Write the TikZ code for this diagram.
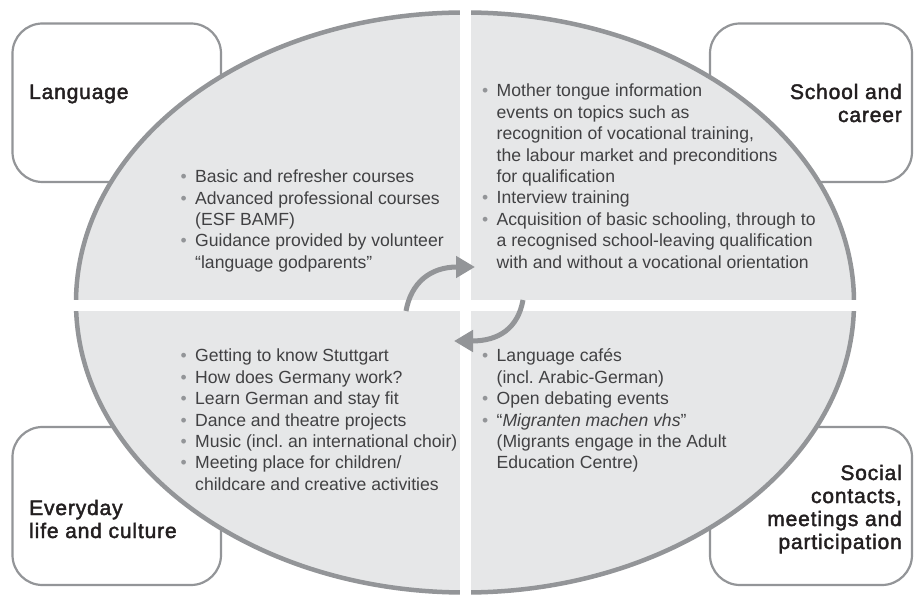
\documentclass[tikz,border=0pt]{standalone}
\usepackage{fontspec}
\setmainfont{Liberation Sans}
\newfontfamily\labelfont{Liberation Sans}[FakeBold=2,LetterSpace=4]
\usetikzlibrary{arrows.meta,shapes.geometric}

\definecolor{ringgrey}{HTML}{939598}
\definecolor{fillgrey}{HTML}{E6E7E8}
\definecolor{bodytext}{HTML}{414143}
\definecolor{labeltext}{HTML}{231F20}

\frenchspacing

% bullet and hanging indent for the lists
\newcommand\bul{\makebox[14.5pt][l]{\textcolor{ringgrey}{•}}}
\newcommand\cont{\hspace*{14.5pt}}
% a block of lines whose baseline is that of its first line
\newcommand\lineblock[2]{\begin{tabular}[t]{@{}#1@{}}#2\end{tabular}}

\tikzset{
  areabox/.style={draw=ringgrey, line width=2.2pt, fill=white, rounded corners=30pt},
  listtext/.style={inner sep=0pt, text=bodytext, font=\fontsize{17.6pt}{21.4pt}\selectfont},
  labeltxt/.style={inner sep=0pt, text=labeltext, font=\labelfont\fontsize{21pt}{23pt}\selectfont},
  cycle arrow/.style={draw=ringgrey, line width=5pt,
    -{Triangle[length=19pt,width=21pt]}},
}

\begin{document}
\begin{tikzpicture}[x=1pt,y=-1pt]
\useasboundingbox (0,0) rectangle (914,596);
\fill[white] (0,0) rectangle (914,596);

% four corner boxes
\draw[areabox] (12.5,23.5) rectangle (221,182);
\draw[areabox] (710,23.5) rectangle (912,182);
\draw[areabox] (12.5,427) rectangle (221,585);
\draw[areabox] (710,427) rectangle (912,585);

% central ellipse split into quadrants
\node[draw=ringgrey, fill=fillgrey, line width=4.5pt, ellipse, inner sep=0pt,
      minimum width=778pt, minimum height=580pt] (hub) at (465,302.5) {};
\fill[white] (460,0) rectangle (471,596);
\fill[white] (60,300) rectangle (870,311);

% labels in the corner boxes
\node[labeltxt, anchor=base west] (lang) at (29,99) {Language};
\node[labeltxt, anchor=base east] (school) at (902,99)
  {\lineblock{r}{School and\\ career}};
\node[labeltxt, anchor=base west] (everyday) at (29,515)
  {\lineblock{l}{Everyday\\ life and culture}};
\node[labeltxt, anchor=base east] (social) at (902,480)
  {\lineblock{r}{Social\\ contacts,\\ meetings and\\ participation}};

% lists in the quadrants
\node[listtext, anchor=base west] (langlist) at (180.5,182.7)
  {\lineblock{l}{\bul Basic and refresher courses\\
   \bul Advanced professional courses\\
   \cont(ESF BAMF)\\
   \bul Guidance provided by volunteer\\
   \cont“language godparents”}};

\node[listtext, anchor=base west] (schoollist) at (482,97)
  {\lineblock{l}{\bul Mother tongue information\\
   \cont events on topics such as\\
   \cont recognition of vocational training,\\
   \cont the labour market and preconditions\\
   \cont for qualification\\
   \bul Interview training\\
   \bul Acquisition of basic schooling, through to\\
   \cont a recognised school-leaving qualification\\
   \cont with and without a vocational orientation}};

\node[listtext, anchor=base west] (everydaylist) at (180.5,362)
  {\lineblock{l}{\bul Getting to know Stuttgart\\
   \bul How does Germany work?\\
   \bul Learn German and stay fit\\
   \bul Dance and theatre projects\\
   \bul Music (incl. an international choir)\\
   \bul Meeting place for children/\\
   \cont childcare and creative activities}};

\node[listtext, anchor=base west] (sociallist) at (482,362)
  {\lineblock{l}{\bul Language cafés\\
   \cont(incl. Arabic-German)\\
   \bul Open debating events\\
   \bul “\textit{Migranten machen vhs}”\\
   \cont(Migrants engage in the Adult\\
   \cont Education Centre)}};

% circular arrows in the centre
\coordinate (upstart) at (406,311);
\coordinate (uptip) at (475,267);
\coordinate (downstart) at (523,300);
\coordinate (downtip) at (454,341);
\draw[cycle arrow] (upstart) .. controls (411,283) and (430,267) .. (uptip);
\draw[cycle arrow] (downstart) .. controls (518,328) and (499,341) .. (downtip);
\end{tikzpicture}
\end{document}
